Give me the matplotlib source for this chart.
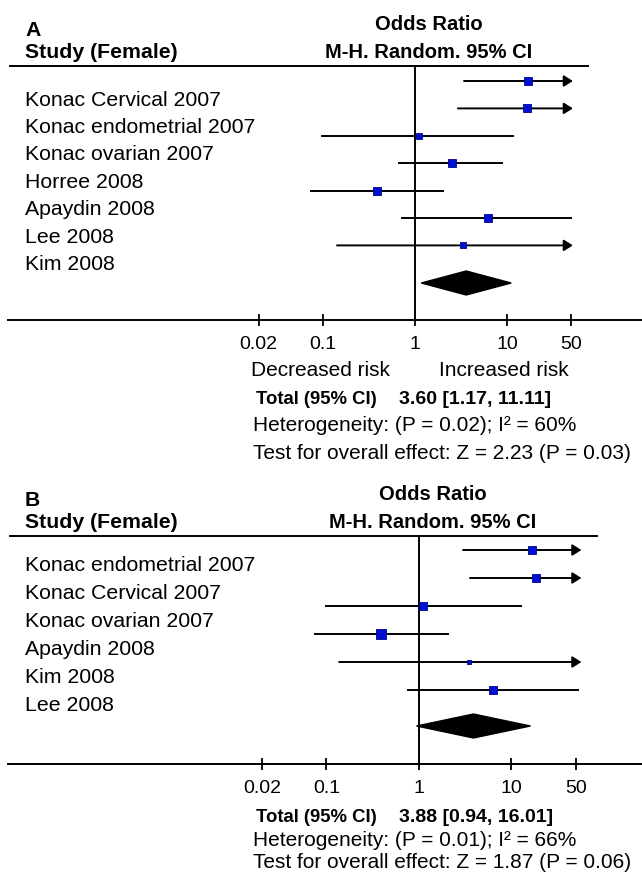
import numpy as np
import matplotlib.pyplot as plt
from matplotlib import transforms

plt.rcParams['font.family'] = ['Liberation Sans', 'DejaVu Sans']

# ---------------- dados -----------------
studies_a = ["Konac Cervical 2007", "Konac endometrial 2007", "Konac ovarian 2007",
             "Horree 2008", "Apaydin 2008", "Lee 2008", "Kim 2008"]
or_a = [16.9, 16.5, 1.10, 2.52, 0.39, 6.2, 3.3]
lo_a = [3.41, 2.93, 0.097, 0.67, 0.074, 0.72, 0.142]
hi_a = [85.0, 90.0, 11.6, 8.8, 2.0, 49.6, 80.0]
w_a = [14, 18, 10, 18, 14, 18, 7]
total_a = [3.60, 1.17, 11.11]
het_a = "Heterogeneity: (P = 0.02); I² = 60%"
test_a = "Test for overall effect: Z = 2.23 (P = 0.03)"

studies_b = ["Konac endometrial 2007", "Konac Cervical 2007", "Konac ovarian 2007",
             "Apaydin 2008", "Kim 2008", "Lee 2008"]
or_b = [16.7, 18.4, 1.10, 0.39, 3.47, 6.3]
lo_b = [2.99, 3.56, 0.099, 0.075, 0.137, 0.76]
hi_b = [90.0, 85.0, 12.7, 2.06, 80.0, 52.0]
w_b = [19, 19, 14, 24, 6, 18]
total_b = [3.88, 0.94, 16.01]
het_b = "Heterogeneity: (P = 0.01); I² = 66%"
test_b = "Test for overall effect: Z = 1.87 (P = 0.06)"

ticks = [0.02, 0.1, 1, 10, 50]
tick_labels = ["0.02", "0.1", "1", "10", "50"]

W, H = 642, 884
fig = plt.figure(figsize=(W / 100, H / 100), dpi=100)


def fx(px):
    return px / W


def fy(py):
    # +3 px: compensa a descida da fonte no alinhamento 'center'
    return 1 - (py + 3) / H


def painel(letra, estudos, est, lo, hi, pesos, top, bot, x1, dec, row0, step,
           diam_y, lab_off, clip, head_end, total, het, test, txt_y, riscos):
    ax = fig.add_axes([0, 1 - bot / H, 1, (bot - top) / H])
    ax.set_xscale('log')
    ax.set_xlim(10 ** (-x1 / dec), 10 ** ((W - x1) / dec))
    ax.set_ylim((bot - row0) / step, (top - row0) / step)
    for s in ax.spines.values():
        s.set_visible(False)
    ax.set_yticks([])
    ax.minorticks_off()
    ax.set_xticks(ticks)
    ax.set_xticklabels(tick_labels, fontsize=14)
    ax.tick_params(axis='x', direction='inout', length=9, width=1.3, pad=7)

    lw = 1.4
    # linhas de cabeçalho e eixo
    ax.plot([fx(10), fx(head_end)], [1, 1], transform=ax.transAxes, color='black', lw=lw, clip_on=False)
    ax.plot([fx(8), 1], [0, 0], transform=ax.transAxes, color='black', lw=lw, clip_on=False)
    ax.axvline(1, color='black', lw=lw)

    trans = transforms.blended_transform_factory(ax.transAxes, ax.transData)
    for i, nome in enumerate(estudos):
        ax.text(fx(25), i + lab_off, nome, transform=trans, fontsize=15.3, va='center', ha='left')
        if hi[i] > clip:
            ax.annotate('', xy=(clip, i), xytext=(lo[i], i),
                        arrowprops=dict(arrowstyle='-|>,head_length=0.38,head_width=0.24',
                                        color='black', lw=lw, shrinkA=0, shrinkB=0,
                                        mutation_scale=14))
        else:
            ax.plot([lo[i], hi[i]], [i, i], color='black', lw=lw)
        lado = 1.9 * np.sqrt(pesos[i]) * 0.72
        ax.plot(est[i], i, marker='s', color='#0010d0', markeredgecolor='#000090',
                markeredgewidth=0.6, markersize=lado, zorder=5)

    # diamante
    hh = 12 / step
    ax.fill([total[1], total[0], total[2], total[0]],
            [diam_y, diam_y - hh, diam_y, diam_y + hh], color='black', zorder=4)

    # cabeçalhos
    fig.text(fx(25), fy(top - 39), letra, fontsize=15.3, fontweight='bold', va='center')
    fig.text(fx(25), fy(top - 16), "Study (Female)", fontsize=15.3, fontweight='bold', va='center')
    fig.text(fx(x1 + 14), fy(top - 44), "Odds Ratio", fontsize=14.5, fontweight='bold', va='center', ha='center')
    fig.text(fx(x1 + 14), fy(top - 16), "M-H. Random. 95% CI", fontsize=14.5, fontweight='bold', va='center', ha='center')

    # textos de baixo
    y = txt_y
    if riscos:
        fig.text(fx(251), fy(y[0]), "Decreased risk", fontsize=15, va='center')
        fig.text(fx(439), fy(y[0]), "Increased risk", fontsize=15, va='center')
        y = y[1:]
    fig.text(fx(256), fy(y[0]), "Total (95% CI)", fontsize=13.3, fontweight='bold', va='center')
    fig.text(fx(399), fy(y[0]), "%.2f [%.2f, %.2f]" % tuple(total), fontsize=14,
             fontweight='bold', va='center')
    fig.text(fx(253), fy(y[1]), het, fontsize=15, va='center')
    fig.text(fx(253), fy(y[2]), test, fontsize=15, va='center')
    return ax


painel("A", studies_a, or_a, lo_a, hi_a, w_a, top=66, bot=320, x1=415, dec=92,
       row0=81, step=27.4, diam_y=(283 - 81) / 27.4, lab_off=0.7, clip=52, head_end=588,
       total=total_a, het=het_a, test=test_a, txt_y=[368, 397, 422, 451], riscos=True)

painel("B", studies_b, or_b, lo_b, hi_b, w_b, top=536, bot=764, x1=419, dec=92.5,
       row0=550, step=28, diam_y=(726 - 550) / 28, lab_off=0.55, clip=57, head_end=597,
       total=total_b, het=het_b, test=test_b, txt_y=[815, 837, 860], riscos=False)

fig.savefig("out.png", dpi=100, facecolor='white')
